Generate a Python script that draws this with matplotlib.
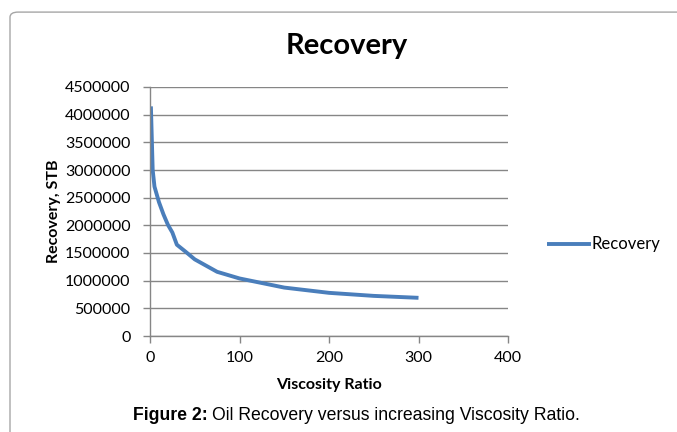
import numpy as np
import matplotlib
matplotlib.use("Agg")
import matplotlib.pyplot as plt
from matplotlib.patches import FancyBboxPatch

# data
viscosity_ratio = [1, 3, 5, 10, 15, 20, 25, 30, 40, 50, 75, 100, 150, 200, 250, 300]
recovery_stb = [4150000, 3000000, 2700000, 2420000, 2200000, 2010000, 1870000, 1650000,
                1520000, 1385000, 1160000, 1040000, 875000, 780000, 725000, 690000]
x_ticks = [0, 100, 200, 300, 400]
y_ticks = list(range(0, 4500001, 500000))

plt.rcParams['font.family'] = ['Lato', 'DejaVu Sans']
grey = '#868686'
blue = '#4a7ebb'

fig = plt.figure(figsize=(6.77, 4.32), dpi=100)

# rounded chart-area frame
frame = FancyBboxPatch((10 / 677, -0.1), 1.0, 1.072, boxstyle="round,pad=0,rounding_size=0.012",
                       transform=fig.transFigure, facecolor='none', edgecolor='#a6a6a6',
                       linewidth=1.0, zorder=-1)
fig.patches.append(frame)

ax = fig.add_axes([150 / 677, 1 - 336 / 432, (508 - 150) / 677, (336 - 87) / 432])
ax.patch.set_alpha(0)
ax.plot(viscosity_ratio, recovery_stb, color=blue, linewidth=2.8, label='Recovery',
        solid_capstyle='butt', solid_joinstyle='round')

ax.set_xlim(0, 400)
ax.set_ylim(0, 4500000)
ax.set_xticks(x_ticks)
ax.set_yticks(y_ticks)
ax.set_yticklabels([str(v) for v in y_ticks])
ax.tick_params(axis='both', labelsize=11.5, color=grey, length=5, width=1)
ax.tick_params(axis='y', pad=9)
ax.tick_params(axis='x', pad=6)
ax.grid(axis='y', color=grey, linewidth=1)
ax.set_axisbelow(True)
for side in ['top', 'right']:
    ax.spines[side].set_visible(False)
for side in ['left', 'bottom']:
    ax.spines[side].set_color(grey)
    ax.spines[side].set_linewidth(1)

ax.set_xlabel('Viscosity Ratio', fontsize=11.5, fontweight='bold', labelpad=9)
ax.set_ylabel('Recovery, STB', fontsize=11.5, fontweight='bold', labelpad=3)

fig.text(347 / 677, 1 - 46 / 432, 'Recovery', ha='center', va='center',
         fontsize=21, fontweight='bold')

ax.legend(loc='center left', bbox_to_anchor=(1.11, 0.368), frameon=False, fontsize=12,
          handlelength=2.6, handletextpad=0.05, borderpad=0, borderaxespad=0)

# caption
cap_bold = fig.text(133 / 677, 1 - 416 / 432, 'Figure 2:', ha='left', va='center',
                    fontsize=12.7, fontweight='bold', family='Liberation Sans')
fig.canvas.draw()
bb = cap_bold.get_window_extent()
fig.text((bb.x1 + 4) / 677, 1 - 416 / 432, 'Oil Recovery versus increasing Viscosity Ratio.',
         ha='left', va='center', fontsize=12.7, family='Liberation Sans')

fig.savefig('out.png', dpi=100)
